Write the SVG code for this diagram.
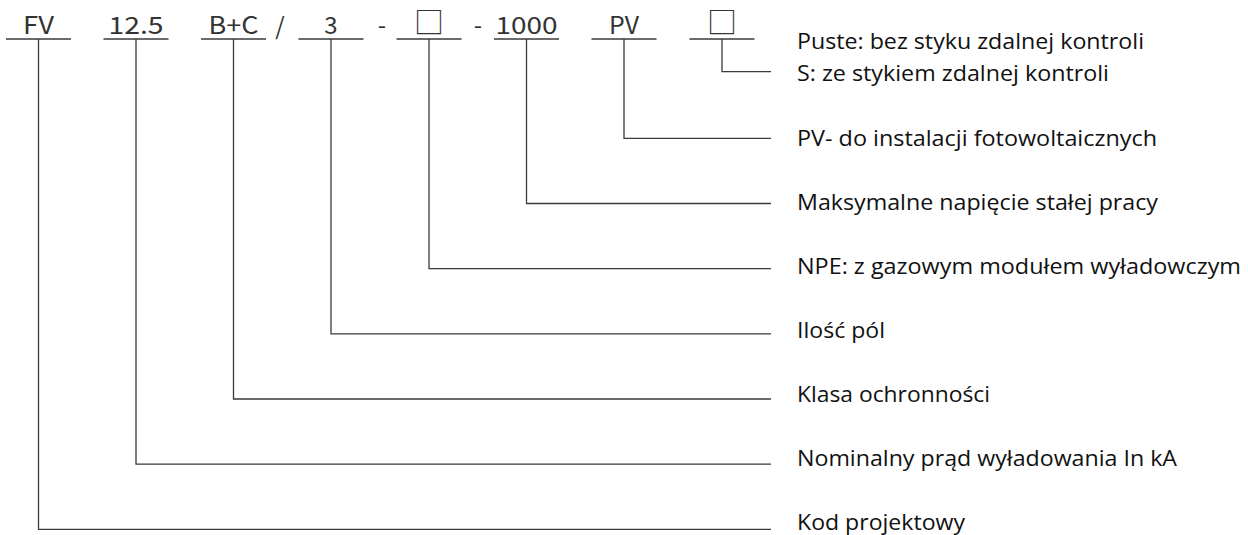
<svg xmlns="http://www.w3.org/2000/svg" width="1248" height="535" viewBox="0 0 1248 535">
<style>
.code{font-family:"Noto Sans CJK SC","DejaVu Sans",sans-serif;font-size:24px;fill:#333;text-anchor:middle}
.box{font-family:"Noto Sans CJK SC","DejaVu Sans",sans-serif;font-size:30px;fill:#333;text-anchor:middle}
.ul{stroke:#3a3a3a;stroke-width:1.4;fill:none}
.conn{stroke:#3a3a3a;stroke-width:1.3;fill:none}
.desc{font-family:"Open Sans","Noto Sans",sans-serif;font-size:22px;fill:#111}
</style>
<rect width="1248" height="535" fill="#fff"/>
<g id="seg-fv"><text class="code" x="38.5" y="34" textLength="31" lengthAdjust="spacingAndGlyphs">FV</text><line class="ul" x1="6" y1="39" x2="71" y2="39"/></g>
<g id="seg-12-5"><text class="code" x="136" y="34" textLength="55" lengthAdjust="spacingAndGlyphs">12.5</text><line class="ul" x1="103.5" y1="39" x2="168.5" y2="39"/></g>
<g id="seg-bc"><text class="code" x="233.5" y="34" textLength="50" lengthAdjust="spacingAndGlyphs">B+C</text><line class="ul" x1="201" y1="39" x2="266" y2="39"/></g>
<g id="sep-slash"><text class="code" x="280" y="34.5">/</text></g>
<g id="seg-3"><text class="code" x="331" y="34">3</text><line class="ul" x1="298.5" y1="39" x2="363.5" y2="39"/></g>
<g id="sep-dash1"><text class="code" x="382" y="34">-</text></g>
<g id="seg-box1"><text class="box" x="429" y="33.3">□</text><line class="ul" x1="396.5" y1="39" x2="461.5" y2="39"/></g>
<g id="sep-dash2"><text class="code" x="478" y="34">-</text></g>
<g id="seg-1000"><text class="code" x="526.5" y="34" textLength="62" lengthAdjust="spacingAndGlyphs">1000</text><line class="ul" x1="494" y1="39" x2="559" y2="39"/></g>
<g id="seg-pv"><text class="code" x="624" y="34" textLength="30" lengthAdjust="spacingAndGlyphs">PV</text><line class="ul" x1="591.5" y1="39" x2="656.5" y2="39"/></g>
<g id="seg-box2"><text class="box" x="722" y="33.3">□</text><line class="ul" x1="689.5" y1="39" x2="754.5" y2="39"/></g>

<g id="connectors">
<polyline class="conn" points="38.5,39 38.5,529.3 771,529.3"/>
<polyline class="conn" points="136,39 136,464.2 771,464.2"/>
<polyline class="conn" points="233.5,39 233.5,399 771,399"/>
<polyline class="conn" points="331,39 331,333.8 771,333.8"/>
<polyline class="conn" points="429,39 429,268.6 771,268.6"/>
<polyline class="conn" points="526.5,39 526.5,203.5 771,203.5"/>
<polyline class="conn" points="624,39 624,138.3 771,138.3"/>
<polyline class="conn" points="722,39 722,71.7 771,71.7"/>
</g>

<g id="desc-contact">
<text class="desc" x="797" y="49" textLength="347" lengthAdjust="spacingAndGlyphs">Puste: bez styku zdalnej kontroli</text>
<text class="desc" x="797" y="80.5" textLength="312" lengthAdjust="spacingAndGlyphs">S: ze stykiem zdalnej kontroli</text>
</g>
<g id="desc-pv"><text class="desc" x="797" y="145.7" textLength="360" lengthAdjust="spacingAndGlyphs">PV- do instalacji fotowoltaicznych</text></g>
<g id="desc-voltage"><text class="desc" x="797" y="209.7" textLength="361" lengthAdjust="spacingAndGlyphs">Maksymalne napięcie stałej pracy</text></g>
<g id="desc-npe"><text class="desc" x="797" y="273.7" textLength="444" lengthAdjust="spacingAndGlyphs">NPE: z gazowym modułem wyładowczym</text></g>
<g id="desc-poles"><text class="desc" x="797" y="337.7" textLength="88" lengthAdjust="spacingAndGlyphs">Ilość pól</text></g>
<g id="desc-class"><text class="desc" x="797" y="401.7" textLength="193" lengthAdjust="spacingAndGlyphs">Klasa ochronności</text></g>
<g id="desc-current"><text class="desc" x="797" y="465.7" textLength="380" lengthAdjust="spacingAndGlyphs">Nominalny prąd wyładowania In kA</text></g>
<g id="desc-code"><text class="desc" x="797" y="529.7" textLength="168" lengthAdjust="spacingAndGlyphs">Kod projektowy</text></g>
</svg>
